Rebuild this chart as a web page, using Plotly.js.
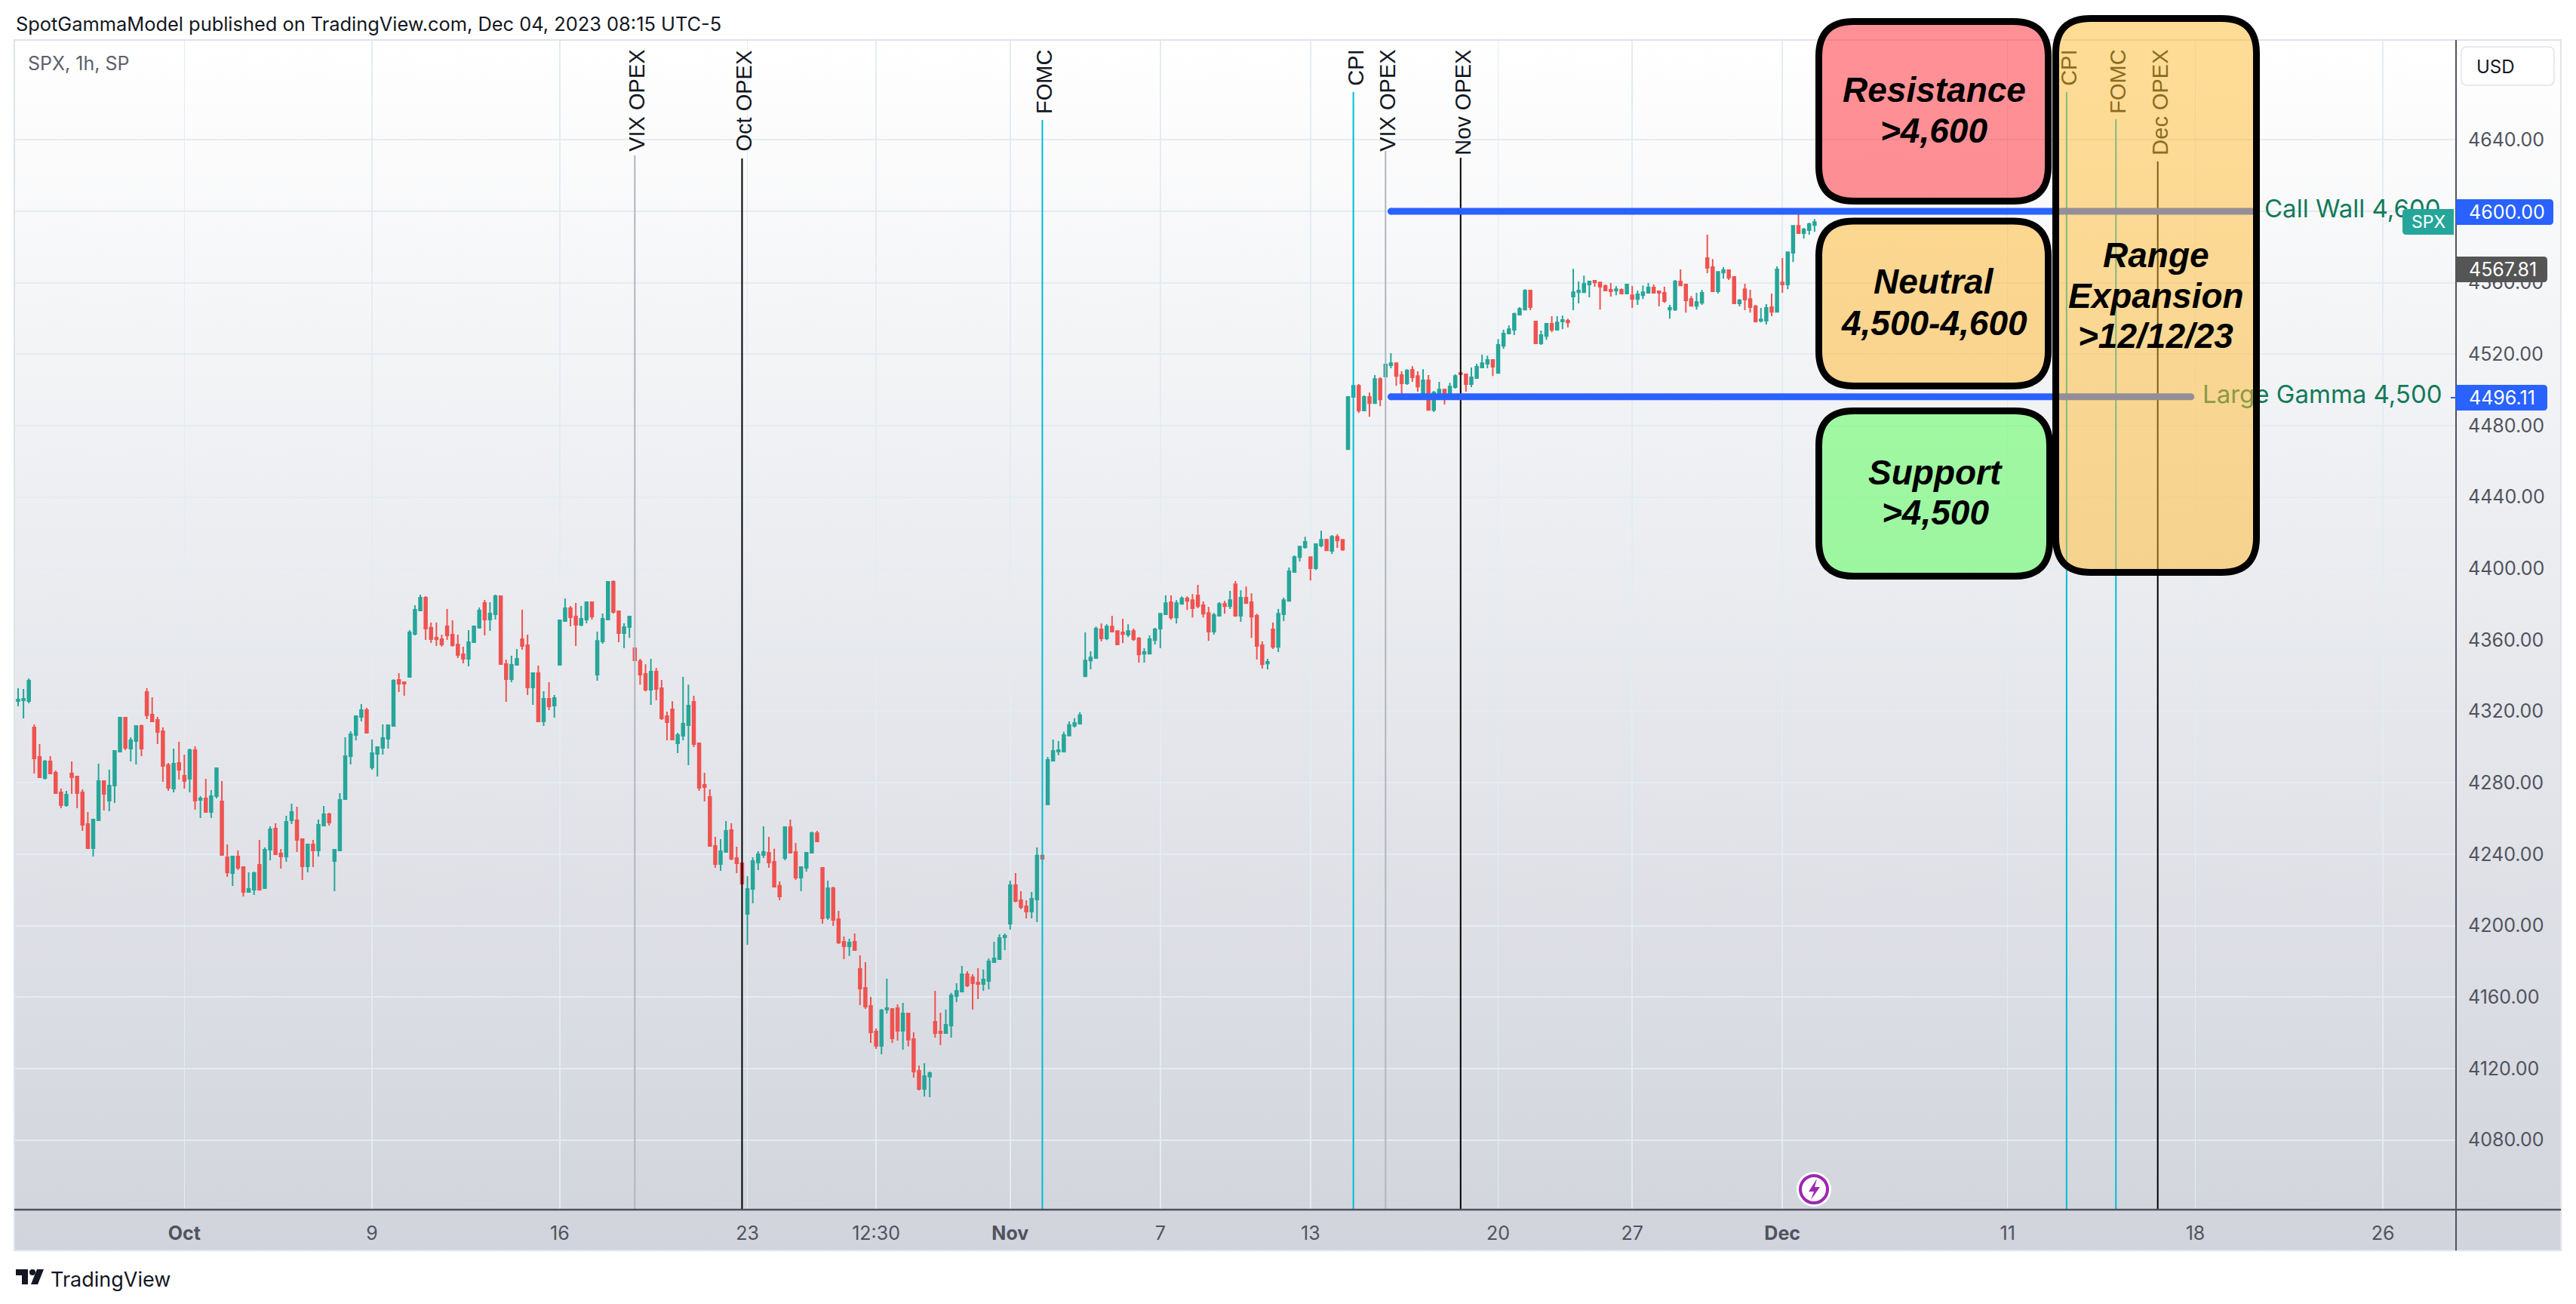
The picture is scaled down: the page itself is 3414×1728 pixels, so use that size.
<!DOCTYPE html>
<html><head><meta charset="utf-8">
<script src="https://cdn.plot.ly/plotly-3.0.1.min.js"></script>
<style>
html,body{margin:0;padding:0;background:#fff;width:3414px;height:1728px;overflow:hidden}
#bg{position:absolute;left:19px;top:53px;width:3375px;height:1604px;background:linear-gradient(#ffffff,#d1d4dc)}
#chart{position:absolute;left:0;top:0;width:3414px;height:1728px}
</style></head><body>
<div id="bg"></div><div id="chart"></div>
<script>
const highs=[4332.9,4332.5,4338.4,4312.7,4301.7,4292.8,4294.9,4286.9,4276.8,4275.5,
4292.0,4283.9,4276.3,4263.7,4259.4,4290.7,4281.4,4287.3,4297.9,4316.9,
4316.9,4305.5,4312.2,4312.7,4332.9,4327.9,4316.9,4311.0,4291.1,4299.1,
4302.9,4295.8,4299.1,4300.4,4272.5,4282.2,4275.9,4288.6,4281.0,4245.5,
4238.7,4242.1,4233.2,4229.8,4230.3,4248.0,4243.8,4255.6,4257.3,4242.9,
4261.5,4268.3,4266.6,4248.9,4245.9,4248.0,4259.4,4267.0,4263.2,4242.9,
4274.2,4305.5,4308.9,4317.3,4324.1,4322.0,4304.2,4300.4,4312.7,4312.2,
4338.0,4341.4,4336.3,4365.5,4379.4,4385.3,4384.5,4369.7,4369.7,4362.9,
4377.3,4371.0,4362.9,4356.2,4365.5,4368.0,4378.2,4382.4,4381.1,4385.3,
4384.9,4349.0,4351.1,4354.9,4376.9,4362.9,4341.8,4345.6,4331.3,4336.3,
4329.1,4371.4,4383.2,4379.0,4380.7,4379.0,4381.1,4381.5,4364.6,4374.8,
4392.5,4393.4,4376.0,4369.3,4373.1,4355.3,4349.4,4346.4,4349.4,4344.3,
4337.6,4319.8,4325.7,4308.0,4339.3,4335.0,4328.7,4302.1,4285.6,4276.3,
4249.7,4248.4,4258.6,4257.3,4244.2,4234.9,4227.7,4238.3,4241.7,4255.6,
4249.7,4243.0,4224.8,4255.2,4259.4,4246.3,4232.8,4240.8,4252.7,4253.1,
4232.4,4225.2,4221.8,4208.3,4193.9,4192.7,4195.6,4183.4,4179.6,4160.1,
4142.4,4153.4,4170.3,4153.8,4155.9,4156.8,4151.3,4140.3,4121.7,4122.9,
4118.3,4163.5,4151.3,4153.0,4162.3,4167.7,4177.5,4174.5,4172.8,4176.2,
4175.4,4181.7,4191.0,4195.2,4195.6,4225.2,4229.4,4219.3,4214.2,4218.9,
4243.8,4239.2,4294.5,4304.2,4303.4,4308.5,4314.4,4316.1,4319.5,4364.2,
4353.6,4367.5,4369.2,4368.8,4373.5,4365.4,4371.8,4368.8,4366.3,4361.6,
4355.3,4362.5,4366.7,4374.7,4384.9,4384.9,4382.3,4384.4,4384.4,4385.7,
4390.8,4381.5,4378.5,4375.1,4381.1,4381.9,4387.4,4392.9,4387.8,4389.9,
4386.1,4374.7,4359.1,4349.4,4369.7,4377.3,4383.6,4400.5,4407.3,4412.3,
4417.8,4406.4,4413.6,4421.2,4416.6,4418.7,4419.1,4416.1,4496.0,4502.3,
4503.2,4496.9,4498.5,4508.3,4507.0,4514.2,4520.5,4515.4,4510.4,4511.6,
4513.3,4510.4,4511.6,4508.3,4499.4,4504.5,4500.7,4504.0,4508.7,4509.5,
4508.7,4512.5,4514.6,4519.7,4519.2,4517.1,4528.5,4533.6,4536.1,4543.3,
4546.3,4556.4,4555.6,4538.3,4533.2,4537.4,4541.2,4541.2,4541.6,4539.9,
4567.8,4560.7,4564.0,4560.7,4561.5,4560.2,4559.0,4559.8,4558.1,4556.8,
4559.0,4558.1,4555.6,4558.5,4559.8,4559.0,4555.2,4557.7,4547.6,4561.5,
4567.4,4559.0,4552.6,4554.3,4556.0,4586.9,4573.3,4566.1,4568.7,4567.4,
4563.2,4550.9,4559.4,4556.0,4547.6,4545.9,4548.0,4553.9,4569.1,4573.8,
4577.4,4591.9,4598.3,4590.7,4593.6,4595.7];
const lows=[4322.8,4316.0,4324.5,4285.2,4283.1,4281.8,4285.2,4274.2,4265.8,4266.6,
4273.8,4265.8,4253.1,4243.4,4238.7,4259.0,4264.5,4264.1,4268.7,4297.5,
4298.3,4292.0,4290.3,4294.9,4315.6,4314.4,4301.7,4280.6,4275.5,4274.6,
4281.8,4276.8,4274.6,4264.9,4260.3,4263.7,4260.3,4271.3,4239.1,4227.3,
4222.2,4231.1,4216.3,4218.9,4217.2,4220.1,4220.6,4236.6,4240.0,4232.0,
4235.8,4256.9,4241.3,4225.6,4229.8,4232.8,4238.7,4256.0,4256.0,4219.3,
4242.1,4270.8,4290.3,4303.8,4314.4,4307.6,4287.3,4283.5,4295.8,4299.1,
4311.8,4330.8,4328.7,4339.3,4362.5,4376.0,4360.0,4358.3,4356.6,4356.2,
4360.0,4356.2,4349.8,4346.9,4345.2,4358.7,4366.3,4362.5,4365.1,4371.4,
4346.5,4325.3,4336.3,4346.0,4354.5,4329.1,4323.7,4314.4,4311.8,4320.7,
4316.5,4346.0,4370.6,4367.6,4356.6,4367.6,4369.3,4371.4,4337.2,4357.9,
4371.4,4374.8,4358.7,4355.3,4361.2,4348.6,4335.0,4331.2,4323.6,4326.2,
4315.2,4303.8,4304.2,4296.6,4303.8,4289.8,4300.0,4275.5,4269.6,4244.2,
4232.4,4230.7,4241.3,4236.6,4229.4,4223.5,4189.3,4212.5,4231.1,4237.9,
4232.4,4221.8,4214.2,4236.6,4240.4,4225.6,4219.3,4230.3,4240.8,4247.2,
4201.1,4203.2,4199.9,4189.7,4181.3,4183.0,4185.9,4155.5,4153.4,4134.4,
4131.0,4128.0,4150.8,4134.4,4135.6,4130.6,4132.3,4114.9,4107.7,4104.4,
4103.9,4137.3,4133.1,4139.9,4137.3,4157.2,4163.1,4165.6,4153.0,4158.9,
4163.5,4164.4,4179.6,4181.3,4186.3,4197.7,4213.0,4209.2,4204.1,4204.1,
4202.0,4237.5,4267.9,4292.4,4295.4,4297.1,4306.4,4311.0,4313.1,4339.2,
4343.5,4349.8,4359.1,4359.9,4364.2,4357.4,4358.2,4361.6,4359.5,4347.3,
4347.3,4352.3,4357.4,4355.3,4373.9,4371.3,4369.2,4380.2,4376.8,4372.6,
4377.7,4372.6,4359.5,4362.9,4373.5,4374.7,4377.3,4373.0,4370.1,4380.6,
4361.2,4349.0,4343.9,4343.5,4354.9,4353.2,4370.5,4381.9,4398.0,4403.9,
4411.1,4393.3,4399.2,4411.9,4409.8,4408.1,4411.5,4409.8,4466.8,4496.0,
4487.1,4488.4,4485.0,4492.6,4490.9,4507.4,4512.1,4502.3,4497.1,4502.8,
4504.5,4499.0,4495.7,4488.8,4487.6,4495.7,4491.8,4496.4,4500.7,4508.7,
4499.0,4501.5,4506.6,4512.5,4512.1,4507.8,4509.5,4523.0,4531.5,4530.7,
4542.1,4545.0,4544.6,4526.0,4525.2,4528.1,4532.3,4533.6,4534.0,4534.9,
4544.6,4548.4,4554.3,4551.8,4557.7,4545.0,4555.6,4552.2,4553.0,4553.9,
4553.9,4545.9,4547.6,4550.9,4554.3,4553.9,4546.7,4548.8,4539.9,4544.2,
4558.5,4543.3,4546.7,4545.0,4547.6,4565.3,4555.2,4553.9,4562.3,4561.5,
4548.0,4546.7,4544.6,4543.3,4537.8,4537.8,4536.6,4541.2,4543.3,4554.3,
4556.4,4571.6,4587.7,4584.7,4586.9,4588.5];
const opens=[4325.8,4326.2,4325.8,4311.0,4294.5,4282.7,4292.0,4285.6,4274.6,4267.5,
4285.2,4283.5,4274.6,4256.9,4243.4,4259.0,4281.0,4270.0,4278.4,4297.5,
4316.5,4299.1,4303.4,4311.8,4330.8,4318.2,4315.2,4308.9,4289.9,4276.8,
4291.1,4283.9,4282.2,4298.3,4270.4,4271.3,4263.7,4272.5,4269.6,4238.3,
4229.4,4238.7,4232.8,4218.9,4220.1,4234.1,4221.0,4242.5,4254.4,4240.4,
4238.7,4259.0,4259.0,4248.4,4233.2,4245.5,4242.1,4256.0,4262.4,4236.2,
4242.1,4270.8,4294.9,4306.8,4316.9,4320.7,4288.6,4296.2,4299.6,4304.6,
4311.8,4337.6,4336.3,4339.3,4363.4,4376.5,4383.7,4366.8,4361.3,4360.4,
4367.6,4362.9,4357.5,4352.0,4349.4,4358.7,4366.8,4380.7,4371.4,4374.4,
4384.5,4346.5,4338.0,4346.0,4360.4,4357.0,4333.4,4341.4,4314.4,4327.0,
4323.2,4346.0,4370.6,4377.7,4373.1,4368.4,4371.4,4381.1,4340.5,4359.1,
4371.4,4392.5,4376.0,4363.8,4367.2,4355.3,4348.1,4341.0,4332.1,4342.2,
4332.9,4317.3,4321.1,4302.1,4306.3,4312.2,4325.3,4302.1,4278.9,4272.1,
4244.6,4234.5,4241.3,4253.5,4237.9,4234.9,4206.6,4220.6,4235.3,4239.6,
4240.8,4235.8,4222.3,4237.9,4255.2,4241.3,4226.9,4232.4,4240.8,4251.8,
4232.4,4204.5,4221.0,4203.7,4191.0,4188.4,4191.0,4175.8,4165.2,4155.1,
4140.7,4132.7,4153.0,4153.4,4153.8,4141.1,4150.8,4136.5,4118.7,4108.6,
4115.4,4146.2,4140.7,4139.9,4144.1,4160.6,4163.1,4172.8,4171.1,4168.2,
4167.3,4169.0,4179.6,4181.3,4193.5,4201.1,4222.7,4214.2,4210.8,4207.9,
4214.6,4239.2,4267.9,4292.4,4297.5,4297.5,4306.4,4311.9,4313.1,4339.7,
4348.5,4349.8,4365.9,4360.8,4367.5,4365.0,4364.2,4362.9,4365.0,4360.8,
4352.3,4352.3,4359.9,4366.3,4374.3,4381.1,4372.6,4380.2,4383.2,4382.3,
4384.9,4379.4,4375.1,4364.6,4373.5,4380.2,4378.9,4391.2,4373.5,4383.6,
4381.1,4373.5,4357.0,4346.8,4365.9,4356.1,4374.3,4381.9,4398.0,4406.4,
4411.9,4406.4,4400.1,4412.8,4416.1,4409.8,4417.8,4416.1,4466.8,4496.0,
4502.3,4488.4,4496.0,4492.6,4506.1,4507.4,4513.8,4515.0,4508.3,4503.6,
4511.2,4507.8,4495.7,4505.3,4488.8,4498.0,4500.2,4496.4,4501.5,4509.5,
4508.7,4503.2,4506.6,4512.5,4514.6,4516.7,4509.5,4524.7,4531.5,4533.6,
4542.1,4545.0,4555.6,4538.3,4526.0,4530.2,4537.0,4533.6,4538.3,4538.7,
4552.2,4554.7,4554.7,4559.0,4561.1,4560.2,4558.1,4556.0,4555.6,4556.0,
4553.9,4553.0,4550.9,4553.0,4554.3,4557.3,4555.2,4554.3,4545.0,4545.0,
4560.7,4559.0,4550.9,4547.1,4548.8,4573.8,4568.7,4555.2,4565.7,4567.0,
4563.2,4548.4,4556.4,4550.9,4546.7,4538.7,4538.7,4546.3,4543.7,4560.2,
4559.0,4576.7,4591.9,4587.7,4589.4,4592.3];
const closes=[4326.6,4327.0,4337.2,4293.7,4283.1,4292.0,4285.2,4274.2,4267.5,4273.4,
4283.1,4274.2,4256.5,4243.4,4259.4,4281.0,4273.8,4278.4,4297.9,4316.5,
4299.6,4303.8,4311.8,4299.1,4317.7,4314.4,4308.4,4289.4,4277.2,4290.7,
4287.3,4281.0,4298.3,4270.0,4271.3,4263.7,4272.5,4288.2,4239.6,4229.8,
4238.7,4232.4,4218.9,4220.6,4229.4,4220.1,4242.5,4253.9,4240.0,4238.7,
4258.2,4263.7,4248.0,4233.2,4245.5,4242.1,4256.5,4262.4,4257.7,4242.5,
4270.4,4294.9,4307.2,4317.3,4320.7,4308.0,4296.6,4300.0,4305.1,4312.2,
4337.2,4335.5,4335.5,4364.2,4376.9,4383.7,4366.3,4360.4,4360.4,4357.5,
4362.5,4357.0,4351.5,4349.4,4358.7,4367.6,4376.5,4371.4,4374.8,4384.5,
4346.5,4338.0,4346.0,4349.4,4356.6,4333.4,4341.4,4314.4,4327.0,4322.8,
4327.5,4371.0,4377.7,4372.7,4368.4,4371.8,4381.1,4373.1,4359.5,4371.8,
4392.5,4375.6,4363.8,4367.2,4373.1,4348.6,4340.5,4332.1,4342.2,4332.5,
4316.0,4313.9,4304.2,4306.7,4313.1,4323.2,4301.7,4277.2,4277.6,4244.6,
4234.5,4241.7,4253.1,4237.5,4234.9,4223.5,4220.6,4236.2,4240.0,4241.3,
4235.3,4221.8,4216.3,4255.2,4240.8,4226.9,4232.8,4240.8,4251.8,4247.2,
4204.1,4221.0,4203.2,4190.6,4188.4,4190.6,4186.3,4164.8,4154.6,4140.3,
4132.7,4152.5,4153.8,4136.9,4141.1,4150.8,4136.1,4118.3,4108.6,4115.8,
4117.5,4139.9,4139.9,4144.5,4161.0,4163.5,4172.8,4166.5,4167.7,4167.3,
4169.9,4180.0,4181.7,4193.1,4194.4,4222.7,4213.8,4210.4,4207.9,4215.1,
4239.2,4237.5,4292.8,4297.9,4298.3,4306.8,4312.3,4313.5,4317.8,4348.5,
4350.2,4366.3,4360.8,4367.5,4364.6,4357.4,4363.3,4365.0,4360.4,4351.9,
4353.2,4360.4,4365.9,4374.7,4380.6,4372.6,4380.6,4383.2,4381.9,4377.7,
4378.9,4374.7,4364.6,4373.9,4380.2,4378.9,4382.3,4373.5,4383.6,4380.6,
4373.0,4356.6,4346.4,4347.7,4356.1,4374.7,4382.3,4398.4,4406.4,4412.3,
4414.9,4400.1,4413.6,4416.1,4410.2,4417.8,4415.7,4410.6,4496.0,4502.3,
4488.4,4496.0,4492.6,4506.1,4494.7,4514.2,4515.0,4507.8,4503.6,4510.8,
4507.0,4501.9,4505.3,4488.8,4498.5,4500.2,4496.4,4501.9,4507.8,4508.7,
4503.2,4507.0,4512.9,4515.0,4516.7,4512.9,4525.2,4531.5,4534.0,4542.5,
4545.4,4555.6,4546.3,4526.0,4530.7,4537.0,4533.6,4537.8,4539.1,4537.8,
4554.7,4555.6,4559.4,4560.7,4560.2,4557.7,4555.6,4555.2,4556.4,4553.9,
4559.0,4550.9,4553.5,4554.7,4557.3,4554.3,4554.3,4549.7,4545.9,4560.7,
4558.5,4550.1,4547.1,4549.2,4554.3,4568.3,4555.2,4566.1,4567.0,4562.8,
4548.4,4550.1,4550.5,4546.3,4538.3,4539.5,4545.9,4543.7,4567.4,4559.0,
4577.1,4591.9,4587.7,4589.8,4592.8,4594.0];
const barTicks=[32,67,102,137,161,186,214,242,277,302,330,372,407,442];
const barTickLabels=['<b>Oct</b>','9','16','23','12:30','<b>Nov</b>','7','13','20','27','<b>Dec</b>','11','18','26'];
const priceTicks=[4080,4120,4160,4200,4240,4280,4320,4360,4400,4440,4480,4520,4560,4600,4640];
const eventNames=['VIX OPEX','Oct OPEX','FOMC','CPI','VIX OPEX','Nov OPEX','CPI','FOMC','Dec OPEX'];
const eventBars=[116,136,192,250,256,270,383,392.2,400];
const levelNames=['Call Wall 4,600','Large Gamma 4,500'];
const levelPrices=[4600,4496.11];
const lastPrice=4567.81;

// ---- layout helpers (page pixels to paper fractions) ----
const L=19,R=3255,T=53,B=1603;
const xp=p=>(p-L)/(R-L), yp=p=>(B-p)/(B-T);
const pxBar=p=>1+(p-24)/7.107;
const pxPrice=p=>4400+(753.3-p)/2.3667;
const bars=opens.map((_,i)=>i+1);
const n=v=>v.toFixed(5);
function rrect(x0,y0,x1,y1,rl,rr){
  const X=a=>n(xp(a)),Y=a=>n(yp(a));
  return `M${X(x0+rl)},${Y(y0)}L${X(x1-rr)},${Y(y0)}Q${X(x1)},${Y(y0)} ${X(x1)},${Y(y0+rr)}L${X(x1)},${Y(y1-rr)}Q${X(x1)},${Y(y1)} ${X(x1-rr)},${Y(y1)}L${X(x0+rl)},${Y(y1)}Q${X(x0)},${Y(y1)} ${X(x0)},${Y(y1-rl)}L${X(x0)},${Y(y0+rl)}Q${X(x0)},${Y(y0)} ${X(x0+rl)},${Y(y0)}Z`;
}
function poly(pts){return 'M'+pts.map(p=>n(xp(p[0]))+','+n(yp(p[1]))).join('L')+'Z';}
const pshape=(path,fill,stroke,w)=>({type:'path',xref:'paper',yref:'paper',layer:'above',path,fillcolor:fill||'rgba(0,0,0,0)',line:{color:stroke||'rgba(0,0,0,0)',width:w||0}});
const circle=(cx,cy,r,fill,stroke,w)=>({type:'circle',xref:'paper',yref:'paper',layer:'above',x0:xp(cx-r),x1:xp(cx+r),y0:yp(cy-r),y1:yp(cy+r),fillcolor:fill,line:{color:stroke||'rgba(0,0,0,0)',width:w||0}});
const UI='Inter, sans-serif', ARIAL='"Liberation Sans", Arial, sans-serif';
function label(text,x,y,size,color,opt){return Object.assign({text,x:xp(x),y:yp(y),xref:'paper',yref:'paper',xanchor:'left',yanchor:'middle',showarrow:false,borderpad:0,font:{family:UI,size,color}},opt||{});}
function bigLabel(text,x,y){return label(text,x,y,46,'#000',{xanchor:'center',font:{family:ARIAL,size:46,color:'#000',weight:700,style:'italic'}});}

const eventColors=['#b2b5be','#000000','#00bcd4','#00bcd4','#b2b5be','#000000','#00bcd4','#00bcd4','#000000'];
const eventTopPx=[206,210,159,122,200,209,122,158,214];
const eventTextColors=['#131722','#131722','#131722','#131722','#131722','#131722','#8c6c1e','#8c6c1e','#8c6c1e'];

const traces=[{
  type:'candlestick',x:bars,open:opens,high:highs,low:lows,close:closes,width:0.58,whiskerwidth:0,
  increasing:{line:{color:'#26a69a',width:2},fillcolor:'#26a69a'},
  decreasing:{line:{color:'#ef5350',width:2},fillcolor:'#ef5350'},
  hoverinfo:'skip',showlegend:false
}];
eventBars.forEach((b,i)=>traces.push({type:'scatter',mode:'lines',x:[b,b],y:[4041,pxPrice(eventTopPx[i])],
  line:{color:eventColors[i],width:2},hoverinfo:'skip',showlegend:false}));
const levelStart=[257,257],levelEnd=[417.5,406.2];
levelPrices.forEach((p,i)=>traces.push({type:'scatter',mode:'lines+markers',x:[levelStart[i],levelEnd[i]],y:[p,p],
  line:{color:'#2962ff',width:9},marker:{color:'#2962ff',size:9,line:{width:0}},hoverinfo:'skip',showlegend:false}));
const levelLabelPx=[3001,2919];
traces.push({type:'scatter',mode:'text',x:levelLabelPx.map(pxBar),y:levelPrices,text:levelNames,textposition:'middle right',
  textfont:{family:UI,size:33,color:'#137a5a'},cliponaxis:false,hoverinfo:'skip',showlegend:false});

const shapes=[
  pshape(rrect(19,53,3394,1657,0,0),null,'#e0e3eb',2),
  {type:'line',xref:'paper',yref:'paper',layer:'above',x0:xp(19),x1:xp(3394),y0:yp(1603),y1:yp(1603),line:{color:'#50535e',width:2.5}},
  {type:'line',xref:'paper',yref:'paper',layer:'above',x0:xp(3255),x1:xp(3255),y0:yp(53),y1:yp(1657),line:{color:'#50535e',width:2}},
  pshape(rrect(2410.5,28.5,2714.5,266.5,46,46),'rgba(255,36,46,.5)','#000',9),
  pshape(rrect(2410.5,293,2714.5,511.5,46,46),'rgba(255,182,40,.5)','#000',9),
  pshape(rrect(2410.5,544.5,2716.5,763.5,46,46),'rgba(80,255,80,.5)','#000',9),
  pshape(rrect(2724.5,24.5,2990.5,758.5,46,46),'rgba(255,185,45,.5)','#000',9),
  pshape(rrect(3262,62,3385,113,8,8),'#ffffff','#e0e3eb',1.5),
  pshape(rrect(3184,277,3252,311,5,0),'#26a69a'),
  pshape(rrect(3255,264,3384,298,0,5),'#2962ff'),
  pshape(rrect(3255,340,3376,374,0,5),'#555555'),
  pshape(rrect(3255,510,3376,544,0,5),'#2962ff'),
  pshape(rrect(3248,526,3255,528,0,0),'#2962ff'),
  circle(2404,1576,23,'#ffffff'),
  circle(2404,1576,18,'#ffffff','#9c27b0',4),
  pshape(poly([[2408,1562],[2397,1579],[2404,1579],[2400,1590],[2412,1573],[2405,1573]]),'#9c27b0'),
  pshape(poly([[21,1682],[37,1682],[37,1702],[29,1702],[29,1690],[21,1690]]),'#131722'),
  circle(43,1686,4,'#131722'),
  pshape(poly([[49,1682],[58,1682],[50,1702],[41,1702]]),'#131722')
];

const annotations=[
  label('SpotGammaModel published on TradingView.com, Dec 04, 2023 08:15 UTC-5',20,31,25.4,'#131722'),
  label('SPX, 1h, SP',36,84,25,'#5d606b'),
  label('TradingView',66,1695,27,'#131722'),
  label('USD',3281,88,24,'#131722'),
  label('SPX',3218,294,23,'#ffffff',{xanchor:'center'}),
  label(priceTicks[13].toFixed(2),3271,281,25,'#ffffff'),
  label(lastPrice.toFixed(2),3271,357,25,'#ffffff'),
  label(levelPrices[1].toFixed(2),3271,527,25,'#ffffff'),
  bigLabel('Resistance',2563,119),bigLabel('>4,600',2563,173),
  bigLabel('Neutral',2563,373),bigLabel('4,500-4,600',2563,428),
  bigLabel('Support',2565,626),bigLabel('>4,500',2565,679),
  bigLabel('Range',2857,338),bigLabel('Expansion',2857,392),bigLabel('>12/12/23',2857,445)
];
eventNames.forEach((t,i)=>annotations.push({text:t,x:eventBars[i],xref:'x',y:yp(65),yref:'paper',xanchor:'center',yanchor:'top',xshift:3,
  textangle:-90,showarrow:false,borderpad:0,font:{family:ARIAL,size:29,color:eventTextColors[i]}}));

const layout={
  width:3414,height:1728,autosize:false,
  margin:{l:L,r:3414-R,t:T,b:1728-B,pad:0},
  paper_bgcolor:'rgba(0,0,0,0)',plot_bgcolor:'rgba(0,0,0,0)',showlegend:false,hovermode:false,dragmode:false,
  xaxis:{type:'linear',range:[pxBar(L),pxBar(R)],tickmode:'array',tickvals:barTicks,ticktext:barTickLabels,
    tickfont:{family:UI,size:25,color:'#50535e'},ticks:'',ticklabelstandoff:14,tickangle:0,
    showgrid:true,gridcolor:'#e3ecf3',gridwidth:1.5,zeroline:false,showline:false,rangeslider:{visible:false},fixedrange:true},
  yaxis:{type:'linear',side:'right',range:[pxPrice(B),pxPrice(T)],tickmode:'array',tickvals:priceTicks,
    ticktext:priceTicks.map(v=>v.toFixed(2)),tickfont:{family:UI,size:25,color:'#50535e'},ticks:'',ticklabelstandoff:15,
    showgrid:true,gridcolor:'#e3ecf3',gridwidth:2,zeroline:false,showline:false,fixedrange:true},
  shapes,annotations
};
Plotly.newPlot('chart',traces,layout,{staticPlot:true,displayModeBar:false});
</script></body></html>
